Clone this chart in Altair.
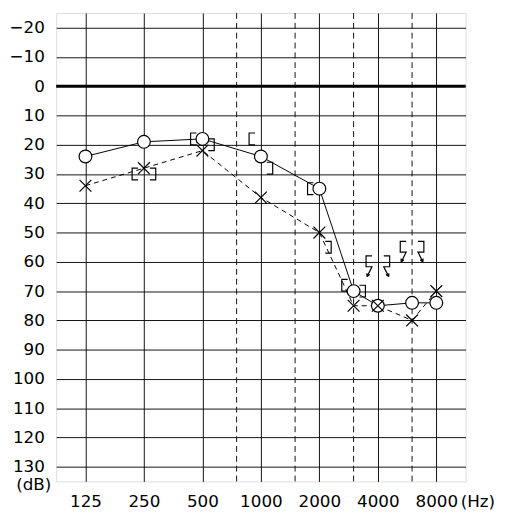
import altair as alt
import pandas as pd

# ---- data ----
freqs = [125, 250, 500, 1000, 2000, 3000, 4000, 6000, 8000]
right_air = [24, 19, 18, 24, 35, 70, 75, 74, 74]     # O, solid line
left_air = [34, 28, 22, 38, 50, 75, 75, 80, 70]      # X, dashed line

bc_freqs = [250, 500, 1000, 2000, 3000]
right_bone = [30, 18, 18, 35, 68]                    # [
left_bone = [30, 20, 28, 55, 70]                     # ]

nr_freqs = [4000, 6000]
right_bone_nr = [60, 55]                             # [ with arrow (no response)
left_bone_nr = [60, 55]                              # ] with arrow (no response)

octave_ticks = [125, 250, 500, 1000, 2000, 4000, 8000]
mid_ticks = [750, 1500, 3000, 6000]
db_ticks = [-20, -10, 0, 10, 20, 30, 40, 50, 60, 70, 80, 90, 100, 110, 120, 130]

FONT = "DejaVu Sans"
FS = 17

air = pd.DataFrame({"freq": freqs, "right": right_air, "left": left_air})
bone_r = pd.DataFrame({"freq": bc_freqs, "db": right_bone})
bone_l = pd.DataFrame({"freq": bc_freqs, "db": left_bone})
nr_r = pd.DataFrame({"freq": nr_freqs, "db": right_bone_nr})
nr_l = pd.DataFrame({"freq": nr_freqs, "db": left_bone_nr})
mids = pd.DataFrame({"freq": mid_ticks})
zero = pd.DataFrame({"db": [0]})

xs = alt.Scale(type="log", base=2, domain=[125 / 2 ** 0.5, 8000 * 2 ** 0.5], nice=False)
ys = alt.Scale(domain=[-25, 135], reverse=True, nice=False, zero=False)

x_axis = alt.Axis(values=octave_ticks, format="d", title=None, ticks=False, domain=False,
                  grid=True, gridColor="#111", gridWidth=1, gridOpacity=1,
                  labelFont=FONT, labelFontSize=FS, labelColor="#000", labelPadding=13,
                  labelAngle=0, labelFlush=False, labelOverlap=False)
y_axis = alt.Axis(values=db_ticks, format="d", title=None, ticks=False, domain=False,
                  grid=True, gridColor="#111", gridWidth=1, gridOpacity=1,
                  labelFont=FONT, labelFontSize=FS, labelColor="#000", labelPadding=12,
                  labelFlush=False, labelOverlap=False)

X = lambda: alt.X("freq:Q", scale=xs, axis=x_axis)

mid_rules = alt.Chart(mids).mark_rule(color="#111", strokeWidth=1, strokeDash=[6, 4]).encode(
    x=alt.X("freq:Q", scale=xs, axis=x_axis)
)
zero_rule = alt.Chart(zero).mark_rule(color="#000", strokeWidth=3).encode(
    y=alt.Y("db:Q", scale=ys, axis=y_axis)
)

right_line = alt.Chart(air).mark_line(color="#000", strokeWidth=1).encode(
    x=X(), y=alt.Y("right:Q", scale=ys, axis=y_axis)
)
left_line = alt.Chart(air).mark_line(color="#000", strokeWidth=1, strokeDash=[5, 4]).encode(
    x=X(), y=alt.Y("left:Q", scale=ys, axis=y_axis)
)

# custom symbols drawn in pixel units (size=4 -> scale 1)
BR_L = "M-6,-6L-12,-6L-12,6L-6,6"
BR_R = "M6,-6L12,-6L12,6L6,6"
NR_L = "M-6,-6L-12,-6L-12,5L-6,5L-11,15M-11,15L-11.2,11.5M-11,15L-8.3,12.8"
NR_R = "M6,-6L12,-6L12,5L6,5L11,15M11,15L11.2,11.5M11,15L8.3,12.8"

def sym(df, path):
    return alt.Chart(df).mark_point(shape=path, size=4, filled=False, stroke="#000",
                                    strokeWidth=1.2, opacity=1).encode(
        x=X(), y=alt.Y("db:Q", scale=ys, axis=y_axis)
    )

right_pts = alt.Chart(air).mark_point(shape="circle", size=169, filled=True, fill="white",
                                      stroke="#000", strokeWidth=1.2, opacity=1).encode(
    x=X(), y=alt.Y("right:Q", scale=ys, axis=y_axis)
)
left_pts = alt.Chart(air).mark_point(shape="M-1,-1L1,1M1,-1L-1,1", size=144, filled=False,
                                     stroke="#000", strokeWidth=1.2, opacity=1).encode(
    x=X(), y=alt.Y("left:Q", scale=ys, axis=y_axis)
)

db_unit = alt.Chart(pd.DataFrame({"t": ["(dB)"]})).mark_text(
    font=FONT, fontSize=FS, color="#000", align="right", baseline="middle"
).encode(x=alt.value(-5), y=alt.value(480), text="t:N")
hz_unit = alt.Chart(pd.DataFrame({"t": ["(Hz)"]})).mark_text(
    font=FONT, fontSize=FS, color="#000", align="left", baseline="top"
).encode(x=alt.value(411), y=alt.value(489), text="t:N")

chart = alt.layer(
    mid_rules, zero_rule, right_line, left_line,
    sym(bone_r, BR_L), sym(bone_l, BR_R), sym(nr_r, NR_L), sym(nr_l, NR_R),
    right_pts, left_pts, db_unit, hz_unit
).properties(
    width=416, height=476,
    autosize=alt.AutoSizeParams(type="none"),
    padding={"left": 49, "top": 1, "right": 36, "bottom": 28},
).configure_view(stroke="#000", strokeWidth=1).configure(background="white")

chart.save("out.html", embed_options={"renderer": "svg", "actions": False})
